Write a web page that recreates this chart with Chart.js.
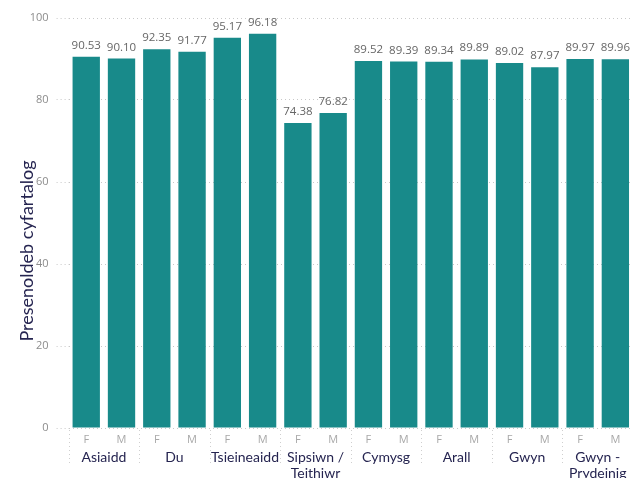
<!DOCTYPE html>
<html>
<head>
<meta charset="utf-8">
<script src="https://cdn.jsdelivr.net/npm/chart.js@4"></script>
<style>
  body { margin: 0; background: #fff; }
  #wrap { width: 633px; height: 478px; }
</style>
</head>
<body>
<div id="wrap"><canvas id="attChart" width="633" height="478"></canvas></div>
<script>
const groups = ['Asiaidd', 'Du', 'Tsieineaidd', ['Sipsiwn /', 'Teithiwr'], 'Cymysg', 'Arall', 'Gwyn', ['Gwyn -', 'Prydeinig']];
const sexes = ['F', 'M'];
const female = [90.53, 92.35, 95.17, 74.38, 89.52, 89.34, 89.02, 89.97];
const male = [90.10, 91.77, 96.18, 76.82, 89.39, 89.89, 87.97, 89.96];
const yTitle = 'Presenoldeb cyfartalog';

// interleave F/M per group
const labels = [];
const values = [];
groups.forEach((g, i) => {
    labels.push(sexes[0], sexes[1]);
    values.push(female[i], male[i]);
});

const teal = '#188a8a';
const navy = '#252450';

// value above each bar
const valueLabels = {
    id: 'valueLabels',
    afterDatasetsDraw(chart) {
        const ctx = chart.ctx;
        ctx.save();
        ctx.font = '11.5px "Open Sans", sans-serif';
        ctx.fillStyle = '#666666';
        ctx.textAlign = 'center';
        ctx.textBaseline = 'alphabetic';
        chart.getDatasetMeta(0).data.forEach((bar, i) => {
            ctx.fillText(values[i].toFixed(2), bar.x, bar.y - 8);
        });
        ctx.restore();
    }
};

// dotted separators between groups + y title
const extras = {
    id: 'extras',
    afterDraw(chart) {
        const ctx = chart.ctx;
        const x = chart.scales.x;
        const area = chart.chartArea;
        const half = (x.getPixelForValue(1) - x.getPixelForValue(0)) / 2;
        ctx.save();
        ctx.strokeStyle = '#cfcfcf';
        ctx.lineWidth = 1;
        ctx.setLineDash([1, 3]);
        for (let i = 0; i < labels.length; i += 2) {
            const px = Math.round(x.getPixelForValue(i) - half) + 0.5;
            ctx.beginPath();
            ctx.moveTo(px, area.bottom + 2);
            ctx.lineTo(px, area.bottom + 37);
            ctx.stroke();
        }
        ctx.restore();

        ctx.save();
        ctx.translate(33, 251);
        ctx.rotate(-Math.PI / 2);
        ctx.font = '18px Lato, sans-serif';
        ctx.fillStyle = navy;
        ctx.textAlign = 'center';
        ctx.textBaseline = 'alphabetic';
        ctx.fillText(yTitle, 0, 0);
        ctx.restore();
    }
};

new Chart(document.getElementById('attChart'), {
    type: 'bar',
    data: {
        labels: labels,
        datasets: [{
            data: values,
            backgroundColor: teal,
            barPercentage: 0.775,
            categoryPercentage: 1
        }]
    },
    options: {
        responsive: false,
        animation: false,
        layout: { padding: { top: 18, right: 0, left: 0, bottom: 0 } },
        plugins: {
            legend: { display: false },
            tooltip: { enabled: false }
        },
        scales: {
            y: {
                min: 0,
                max: 100,
                ticks: {
                    stepSize: 20,
                    padding: 8,
                    color: '#8c8c8c',
                    font: { family: '"Open Sans", sans-serif', size: 11 }
                },
                grid: {
                    color: '#c8c8c8',
                    tickBorderDash: [1, 3],
                    tickColor: '#c8c8c8',
                    tickLength: 12
                },
                border: { display: false, dash: [1, 3] },
                afterFit(scale) { scale.width = 68.6; }
            },
            x: {
                ticks: {
                    autoSkip: false,
                    maxRotation: 0,
                    padding: 5,
                    color: '#a8a8a8',
                    font: { family: '"Open Sans", sans-serif', size: 11 }
                },
                grid: { display: false, drawTicks: false },
                border: { display: false },
                afterFit(scale) { scale.height = 18; }
            },
            x2: {
                type: 'category',
                position: 'bottom',
                labels: groups,
                offset: true,
                ticks: {
                    autoSkip: false,
                    maxRotation: 0,
                    padding: 4,
                    color: navy,
                    font: { family: 'Lato, sans-serif', size: 14, lineHeight: 1.1 }
                },
                grid: { display: false, drawTicks: false },
                border: { display: false },
                afterFit(scale) { scale.height = 32; }
            }
        }
    },
    plugins: [valueLabels, extras]
});
</script>
</body>
</html>
